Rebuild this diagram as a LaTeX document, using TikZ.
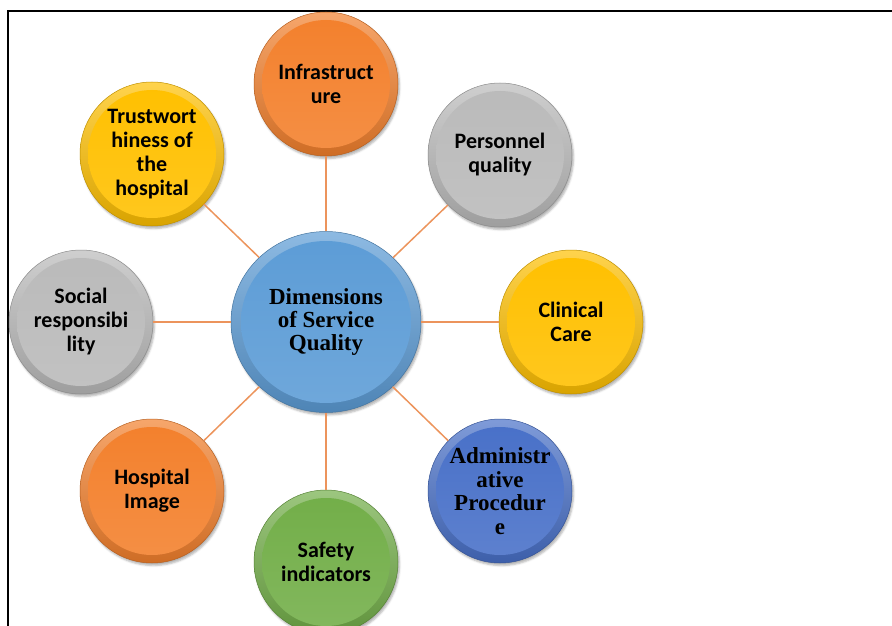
\documentclass[tikz,border=0pt]{standalone}
\usepackage{fontspec}
\setmainfont{Carlito}
\newfontfamily\timesfont{Liberation Serif}
\usepackage{tikz}
\usetikzlibrary{shapes.geometric,shadows.blur,shadings}
\definecolor{qorange}{RGB}{243,128,44}
\definecolor{qgray}{RGB}{186,186,186}
\definecolor{qyellow}{RGB}{255,192,0}
\definecolor{qblue}{RGB}{72,112,200}
\definecolor{qsky}{RGB}{92,156,214}
\definecolor{qgreen}{RGB}{114,174,72}
\definecolor{qline}{RGB}{236,148,92}
\tikzset{
   bubble/.style n args={3}{circle, minimum size=144pt, inner sep=0pt, align=center,
        draw=#1!75!black, line width=0.5pt, top color=#1!70!white, bottom color=#1!85!black,
        blur shadow={shadow xshift=1.5pt, shadow yshift=-2.5pt, shadow opacity=30},
        path picture={\shade[top color=#1, bottom color=#1!88!white]
           (path picture bounding box.center) ellipse [x radius=#2, y radius=#3];},
        font=\fontsize{22}{24}\selectfont\bfseries},
   dim/.style={bubble={#1}{64pt}{64pt}},
   hub/.style={bubble={qsky}{85pt}{81pt}, ellipse, minimum width=190pt, minimum height=181pt,
        font=\timesfont\fontsize{23}{23}\selectfont\bfseries},
   link/.style={draw=qline, line width=1.5pt}
}

\begin{document}
\begin{tikzpicture}[x=1pt,y=-1pt]
  \useasboundingbox (0,0) rectangle (892,626);
  \draw[line width=2.5pt] (8,626) -- (8,11) -- (892,11);

  \node[hub] (hub) at (326,322) {Dimensions\\of Service\\Quality};

  \node[dim=qorange] (infra) at (326,84) {Infrastruct\\ure};
  \node[dim=qgray] (personnel) at (500,155) {Personnel\\quality};
  \node[dim=qyellow] (clinical) at (571,322) {Clinical\\Care};
  \node[dim=qblue, font=\timesfont\fontsize{23}{23.5}\selectfont\bfseries] (admin) at (500,491)
     {Administr\\ative\\Procedur\\e};
  \node[dim=qgreen] (safety) at (326,562) {Safety\\indicators};
  \node[dim=qorange] (image) at (152,491) {Hospital\\Image};
  \node[dim=qgray] (social) at (81,322) {Social\\responsibi\\lity};
  \node[dim=qyellow] (trust) at (152,154) {Trustwort\\hiness of\\the\\hospital};

  \foreach \n in {infra,personnel,clinical,admin,safety,image,social,trust}
    \draw[link] (hub) -- (\n);
\end{tikzpicture}
\end{document}
